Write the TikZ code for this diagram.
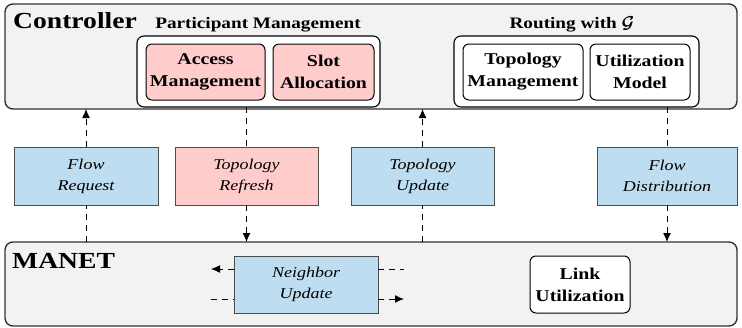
\documentclass[tikz,border=0pt]{standalone}
\usepackage{amsmath}
\usepackage{fontspec}
\setmainfont{Liberation Serif}[FakeStretch=1.2]
\usetikzlibrary{arrows.meta}
\definecolor{panelgray}{HTML}{F2F2F2}
\definecolor{edgegray}{HTML}{333333}
\definecolor{msgblue}{HTML}{BFDDF1}
\definecolor{msgpink}{HTML}{FFCCCC}
\tikzset{
  layer/.style={draw=edgegray, line width=1.4pt, fill=panelgray, rounded corners=8pt},
  group/.style={draw=black, line width=1.1pt, fill=white, rounded corners=7pt},
  module/.style={draw=black, line width=1pt, rounded corners=6pt, align=center,
    font=\fontsize{16.5}{22}\selectfont\bfseries, inner sep=0pt},
  message/.style={draw=black!70, line width=0.8pt, align=center,
    font=\fontsize{15}{21}\selectfont\itshape, inner sep=0pt},
  heading/.style={inner sep=0pt, font=\fontsize{16}{18}\selectfont\bfseries},
  layertitle/.style={anchor=base west, inner sep=0pt, font=\fontsize{23}{25}\selectfont\bfseries},
  flow/.style={dashed, dash pattern=on 6pt off 5pt, line width=1pt},
  tip/.style={-{Latex[length=9pt,width=8pt]}},
}
\begin{document}
\begin{tikzpicture}[x=1pt,y=-1pt]
\useasboundingbox (0,0) rectangle (742,327);

% controller layer
\draw[layer] (5,4) rectangle (737,109);
\node[layertitle] (ctrl) at (13,28) {Controller};
\node[heading, anchor=base] (pmtitle) at (258,28) {Participant Management};
\node[heading, anchor=base] (rtitle) at (572,28) {Routing with $\boldsymbol{\mathcal{G}}$};

\draw[group] (137,36) rectangle (380,107);
\draw[group] (454,36) rectangle (699,107);

\node[module, fill=msgpink, minimum width=119pt, minimum height=56pt] (access) at (205.5,72) {Access\\Management};
\node[module, fill=msgpink, minimum width=101pt, minimum height=56pt] (slot) at (323.5,72) {Slot\\Allocation};
\node[module, fill=white, minimum width=120pt, minimum height=56pt] (topomgmt) at (523,72) {Topology\\Management};
\node[module, fill=white, minimum width=100pt, minimum height=56pt] (utilmodel) at (640,72) {Utilization\\Model};

% MANET layer
\draw[layer] (5,242) rectangle (737,326);
\node[layertitle] (manet) at (12,268) {MANET};

\node[message, fill=msgblue, minimum width=144pt, minimum height=57pt] (neigh) at (306,284.5) {Neighbor\\Update};
\node[module, fill=white, minimum width=100pt, minimum height=57pt] (linkutil) at (580,284.5) {Link\\Utilization};

% messages between the layers
\node[message, fill=msgblue, minimum width=144pt, minimum height=58pt] (freq) at (86,176) {Flow\\Request};
\node[message, fill=msgpink, minimum width=143pt, minimum height=58pt] (trefresh) at (246.5,176) {Topology\\Refresh};
\node[message, fill=msgblue, minimum width=143pt, minimum height=58pt] (tupdate) at (422.5,176) {Topology\\Update};
\node[message, fill=msgblue, minimum width=140pt, minimum height=58pt] (fdist) at (667,176) {Flow\\Distribution};

\coordinate (ctrlA) at (86,109);
\coordinate (ctrlB) at (246.5,107);
\coordinate (ctrlC) at (422.5,109);
\coordinate (ctrlD) at (667,107);
\coordinate (netA) at (86,242);
\coordinate (netB) at (246.5,242);
\coordinate (netC) at (422.5,242);
\coordinate (netD) at (667,242);

\draw[flow, tip] (freq.north) -- (ctrlA);
\draw[flow] (netA) -- (freq.south);
\draw[flow] (ctrlB) -- (trefresh.north);
\draw[flow, tip] (trefresh.south) -- (netB);
\draw[flow, tip] (tupdate.north) -- (ctrlC);
\draw[flow] (netC) -- (tupdate.south);
\draw[flow] (ctrlD) -- (fdist.north);
\draw[flow, tip] (fdist.south) -- (netD);

% neighbour exchange inside the MANET
\coordinate (nl1) at (211,269);
\coordinate (nl2) at (211,299);
\coordinate (nr1) at (404,269);
\coordinate (nr2) at (404,299);
\draw[flow, tip] (neigh.west |- nl1) -- (nl1);
\draw[flow] (nl2) -- (neigh.west |- nl2);
\draw[flow] (neigh.east |- nr1) -- (nr1);
\draw[flow, tip] (neigh.east |- nr2) -- (nr2);
\end{tikzpicture}
\end{document}
